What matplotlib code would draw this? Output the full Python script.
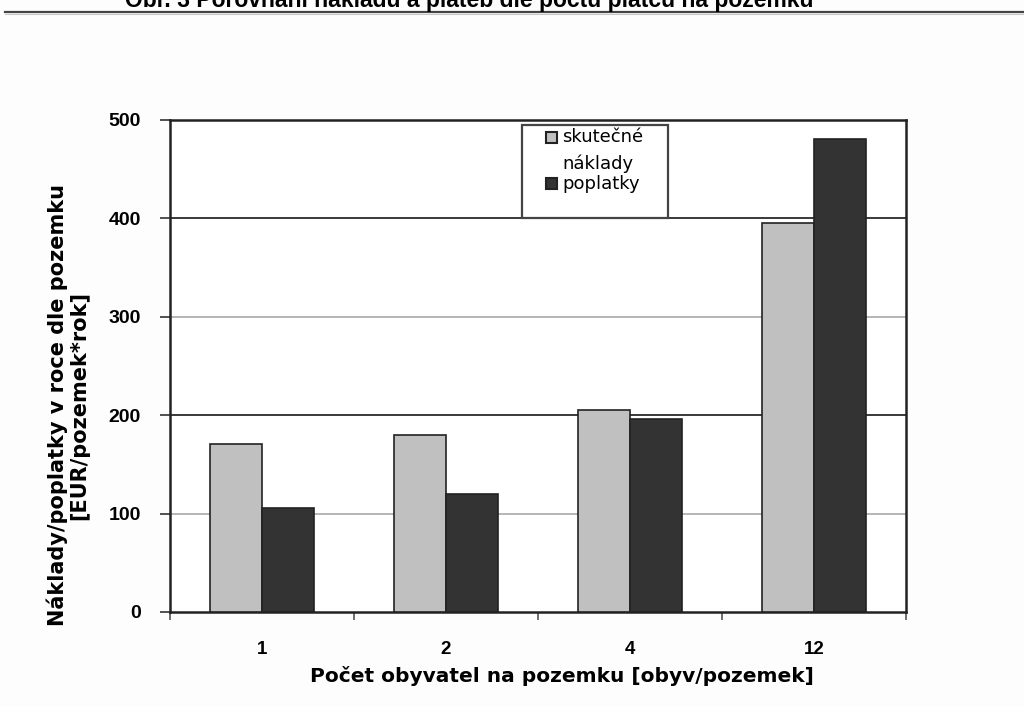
import numpy as np
import matplotlib.pyplot as plt
from matplotlib.patches import Rectangle

# počet obyvatel na pozemku
categories = ['1', '2', '4', '12']
skutecne = [171, 180, 205, 395]   # skutečné náklady
poplatky = [106, 120, 196, 481]   # poplatky
yticks = [0, 100, 200, 300, 400, 500]

W, H = 1024, 707
fig = plt.figure(figsize=(W / 100, H / 100), dpi=100, facecolor='#fdfdfd')

# title cut off at the top of the page
fig.text(0.458, 1 - 7 / H, 'Obr. 3 Porovnání nákladů a plateb dle počtu plátců na pozemku',
         ha='center', va='baseline', fontsize=16.5, fontweight='bold', family='Liberation Sans')
fig.add_artist(plt.Line2D([5 / W, 1.0], [1 - 12 / H] * 2, color='#444444', lw=1.6))
fig.add_artist(plt.Line2D([5 / W, 1.0], [1 - 14 / H] * 2, color='#c8c8c8', lw=0.8))

ax = fig.add_axes([170 / W, 95 / H, 736 / W, 492 / H])
ax.set_facecolor('white')

x = np.arange(len(categories))
w = 0.285
ax.bar(x - w / 2, skutecne, width=w, color='#c0c0c0', edgecolor='#222222', lw=1.2, zorder=3)
ax.bar(x + w / 2, poplatky, width=w, color='#333333', edgecolor='#222222', lw=1.2, zorder=3)

# gridlines, alternating dark and light
for v in [100, 200, 300, 400]:
    c = '#2a2a2a' if v % 200 == 0 else '#b0b0b0'
    ax.axhline(v, color=c, lw=1.3, zorder=1)

ax.set_xlim(-0.5, len(categories) - 0.5)
ax.set_ylim(0, 500)
ax.set_yticks(yticks)
ax.set_yticklabels([str(v) for v in yticks], fontsize=14, fontweight='bold',
                   family='Liberation Sans')
ax.set_xticks(np.arange(len(categories) + 1) - 0.5)
ax.set_xticklabels([])
ax.tick_params(axis='y', direction='out', length=7, width=1.2, color='#333333', pad=14)
ax.tick_params(axis='x', direction='out', length=6, width=1.2, color='#555555')
for i, c in enumerate(categories):
    ax.text(i, -0.077, c, transform=ax.get_xaxis_transform(), ha='center', va='center',
            fontsize=13.5, fontweight='bold', family='Liberation Sans')

for s in ax.spines.values():
    s.set_color('#222222')
    s.set_linewidth(1.8)

fig.text(562 / W, 1 - 676 / H, 'Počet obyvatel na pozemku [obyv/pozemek]', ha='center',
         va='center', fontsize=14.5, fontweight='bold', family='DejaVu Sans')
fig.text(68 / W, 1 - 405 / H, 'Náklady/poplatky v roce dle pozemku\n[EUR/pozemek*rok]',
         rotation=90, ha='center', va='center', multialignment='center', fontsize=15,
         fontweight='bold', family='DejaVu Sans', linespacing=1.1)

# legend box
def axc(px, py):
    return (px - 170) / 736, (612 - py) / 492

bx0, by0 = axc(522, 218)
bx1, by1 = axc(668, 125)
ax.add_patch(Rectangle((bx0, by0), bx1 - bx0, by1 - by0, transform=ax.transAxes,
                       facecolor='white', edgecolor='#444444', lw=1.6, zorder=5))
sq = 11
for top, col in [(132, '#c0c0c0'), (178, '#333333')]:
    sx, sy = axc(546, top + sq)
    ax.add_patch(Rectangle((sx, sy), sq / 736, sq / 492, transform=ax.transAxes,
                           facecolor=col, edgecolor='#222222', lw=1.5, zorder=6))
for label, cy in [('skutečné', 137), ('náklady', 164), ('poplatky', 184)]:
    tx, ty = axc(562, cy)
    ax.text(tx, ty, label, transform=ax.transAxes, ha='left', va='center',
            fontsize=13, family='DejaVu Sans', zorder=7)

fig.savefig('out.png', dpi=100, facecolor=fig.get_facecolor())
